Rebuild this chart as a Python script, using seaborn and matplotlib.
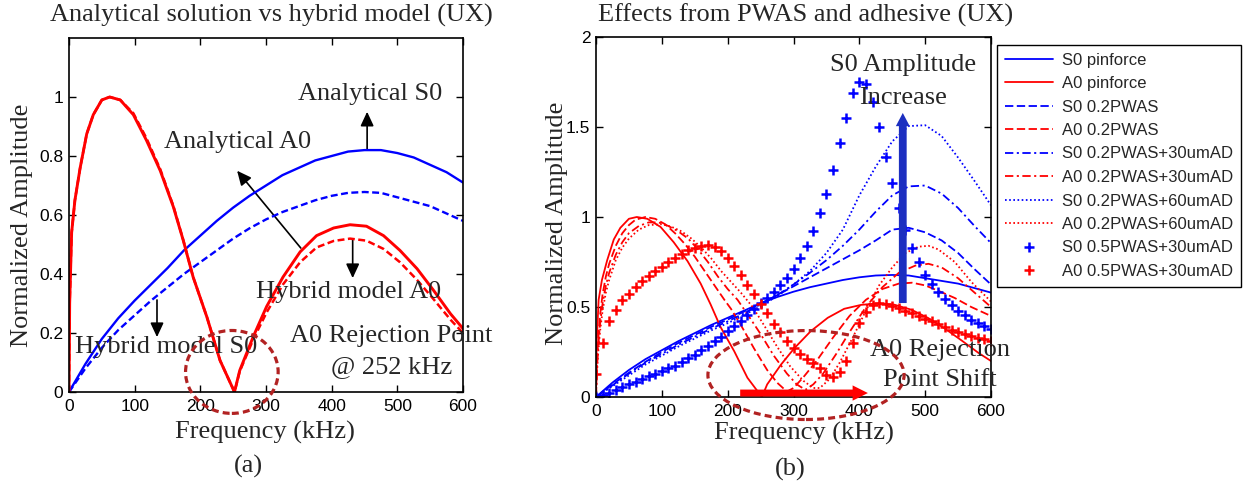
import matplotlib
matplotlib.use("Agg")
import matplotlib.pyplot as plt
import seaborn as sns
from matplotlib.patches import Ellipse, FancyArrowPatch

# ---------------- data : panel (a) ----------------
freq_a0 = [0, 1, 4, 9, 17, 27, 37, 50, 62, 78, 98, 118, 139, 159, 174, 189, 210, 230, 252,
           260, 281, 301, 326, 352, 377, 403, 428, 453, 479, 504, 530, 555, 581, 600]
a0_analytical = [0, 0.3, 0.54, 0.65, 0.76, 0.875, 0.94, 0.99, 1.0, 0.99, 0.94, 0.853, 0.75, 0.627,
                 0.514, 0.39, 0.254, 0.107, 0, 0.073, 0.19, 0.29, 0.39, 0.475, 0.53, 0.556, 0.567,
                 0.562, 0.53, 0.48, 0.418, 0.345, 0.265, 0.215]
a0_hybrid = [0, 0.3, 0.54, 0.65, 0.76, 0.875, 0.94, 0.99, 1.0, 0.99, 0.945, 0.86, 0.755, 0.63,
             0.515, 0.39, 0.254, 0.107, 0, 0.07, 0.18, 0.27, 0.365, 0.44, 0.49, 0.512, 0.52,
             0.513, 0.485, 0.44, 0.38, 0.315, 0.245, 0.2]
freq_s0 = [0, 25, 50, 75, 100, 125, 150, 175, 200, 225, 250, 275, 300, 325, 350, 375, 400, 425,
           450, 475, 500, 525, 550, 575, 600]
s0_analytical = [0, 0.095, 0.18, 0.25, 0.31, 0.365, 0.42, 0.48, 0.53, 0.58, 0.625, 0.665, 0.70,
                 0.735, 0.76, 0.785, 0.80, 0.815, 0.82, 0.82, 0.81, 0.795, 0.77, 0.745, 0.71]
s0_hybrid = [0, 0.08, 0.15, 0.21, 0.26, 0.31, 0.355, 0.40, 0.44, 0.48, 0.52, 0.555, 0.585, 0.61,
             0.63, 0.65, 0.665, 0.675, 0.678, 0.675, 0.66, 0.645, 0.63, 0.605, 0.58]

# ---------------- data : panel (b) ----------------
s0_pwas02 = [0, 0.07, 0.135, 0.195, 0.25, 0.30, 0.345, 0.39, 0.43, 0.475, 0.52, 0.565, 0.615,
             0.665, 0.715, 0.765, 0.815, 0.87, 0.93, 0.94, 0.915, 0.87, 0.80, 0.71, 0.625]
s0_pwas02_ad30 = [0, 0.065, 0.13, 0.19, 0.24, 0.29, 0.335, 0.38, 0.42, 0.465, 0.515, 0.565, 0.625,
                  0.69, 0.76, 0.84, 0.93, 1.03, 1.12, 1.17, 1.175, 1.13, 1.05, 0.95, 0.855]
s0_pwas02_ad60 = [0, 0.06, 0.12, 0.18, 0.23, 0.28, 0.325, 0.37, 0.41, 0.455, 0.505, 0.56, 0.625,
                  0.70, 0.80, 0.93, 1.12, 1.28, 1.42, 1.505, 1.51, 1.45, 1.33, 1.20, 1.065]

freq_a0_pwas02 = [0, 1, 3, 6, 10, 15, 20, 30, 40, 50, 60, 75, 90, 105, 120, 135, 150, 165, 180,
                  195, 205, 220, 240, 260, 275, 290, 300, 315, 335, 360, 385, 410, 435, 460, 480,
                  500, 520, 545, 570, 600]
a0_pwas02 = [0, 0.15, 0.3, 0.45, 0.57, 0.67, 0.74, 0.84, 0.91, 0.955, 0.985, 1.0, 0.99, 0.96,
             0.91, 0.85, 0.78, 0.70, 0.62, 0.54, 0.49, 0.40, 0.27, 0.15, 0.08, 0.03, 0.05, 0.11,
             0.2, 0.33, 0.45, 0.54, 0.6, 0.63, 0.635, 0.62, 0.59, 0.55, 0.50, 0.45]
freq_a0_ad30 = [0, 1, 3, 6, 10, 15, 20, 30, 40, 50, 65, 80, 95, 110, 125, 140, 155, 170, 185,
                200, 215, 230, 250, 270, 290, 305, 318, 330, 345, 365, 385, 410, 435, 460, 485,
                505, 525, 550, 575, 600]
a0_pwas02_ad30 = [0, 0.12, 0.26, 0.4, 0.52, 0.62, 0.69, 0.79, 0.86, 0.91, 0.95, 0.97, 0.97, 0.95,
                  0.92, 0.88, 0.82, 0.75, 0.67, 0.6, 0.54, 0.46, 0.35, 0.23, 0.13, 0.07, 0.04,
                  0.07, 0.13, 0.24, 0.36, 0.5, 0.61, 0.69, 0.73, 0.74, 0.72, 0.66, 0.58, 0.50]
freq_a0_ad60 = [0, 1, 3, 6, 10, 15, 20, 30, 40, 50, 65, 80, 100, 115, 130, 145, 160, 175, 190,
                205, 220, 238, 255, 275, 295, 315, 330, 340, 355, 370, 390, 410, 430, 450, 470,
                490, 505, 520, 545, 570, 600]
a0_pwas02_ad60 = [0, 0.1, 0.23, 0.36, 0.48, 0.58, 0.65, 0.76, 0.83, 0.88, 0.93, 0.955, 0.96, 0.945,
                  0.92, 0.88, 0.83, 0.77, 0.70, 0.64, 0.58, 0.5, 0.4, 0.28, 0.17, 0.09, 0.05, 0.05,
                  0.1, 0.19, 0.33, 0.48, 0.62, 0.72, 0.8, 0.835, 0.84, 0.82, 0.75, 0.64, 0.53]

freq_marks = [0, 10, 20, 30, 40, 50, 60, 70, 80, 90, 100, 110, 120, 130, 140, 150, 160, 170, 180,
              190, 200, 210, 220, 230, 240, 250, 260, 270, 280, 290, 300, 310, 320, 330, 340, 350,
              360, 370, 380, 390, 400, 410, 420, 430, 440, 450, 460, 470, 480, 490, 500, 510, 520,
              530, 540, 550, 560, 570, 580, 590, 600]
s0_pwas05_ad30 = [0, 0.012, 0.025, 0.04, 0.055, 0.07, 0.085, 0.10, 0.115, 0.13, 0.145, 0.16, 0.175,
                  0.195, 0.215, 0.235, 0.26, 0.285, 0.31, 0.335, 0.365, 0.395, 0.425, 0.455, 0.49,
                  0.52, 0.55, 0.585, 0.62, 0.66, 0.71, 0.77, 0.84, 0.92, 1.02, 1.13, 1.26, 1.41,
                  1.55, 1.69, 1.75, 1.74, 1.64, 1.50, 1.335, 1.19, 1.05, 0.93, 0.83, 0.75, 0.68,
                  0.63, 0.585, 0.545, 0.51, 0.48, 0.455, 0.43, 0.41, 0.395, 0.38]
a0_pwas05_ad30 = [0.13, 0.30, 0.42, 0.485, 0.54, 0.575, 0.61, 0.645, 0.675, 0.70, 0.725, 0.75,
                  0.775, 0.795, 0.815, 0.83, 0.84, 0.845, 0.835, 0.81, 0.775, 0.73, 0.68, 0.625,
                  0.57, 0.515, 0.465, 0.405, 0.36, 0.31, 0.275, 0.24, 0.21, 0.19, 0.16, 0.125,
                  0.11, 0.14, 0.20, 0.30, 0.41, 0.47, 0.51, 0.52, 0.515, 0.505, 0.495, 0.48, 0.465,
                  0.45, 0.435, 0.42, 0.405, 0.39, 0.375, 0.36, 0.35, 0.34, 0.33, 0.32, 0.31]

legend_labels = ["S0 pinforce", "A0 pinforce", "S0 0.2PWAS", "A0 0.2PWAS",
                 "S0 0.2PWAS+30umAD", "A0 0.2PWAS+30umAD", "S0 0.2PWAS+60umAD",
                 "A0 0.2PWAS+60umAD", "S0 0.5PWAS+30umAD", "A0 0.5PWAS+30umAD"]
x_ticks = [0, 100, 200, 300, 400, 500, 600]
y_ticks_a = [0, 0.2, 0.4, 0.6, 0.8, 1]
y_ticks_b = [0, 0.5, 1, 1.5, 2]

# ---------------- style ----------------
sns.set_style("white")
plt.rcParams.update({
    "font.family": ["Liberation Sans", "DejaVu Sans"],
    "lines.scale_dashes": False,
    "axes.linewidth": 1.2,
    "axes.edgecolor": "black",
    "xtick.direction": "in", "ytick.direction": "in",
    "xtick.top": True, "ytick.right": True,
    "xtick.bottom": True, "ytick.left": True,
    "xtick.major.size": 5, "ytick.major.size": 5,
    "xtick.major.width": 1.0, "ytick.major.width": 1.0,
    "xtick.color": "black", "ytick.color": "black",
    "xtick.labelsize": 12.5, "ytick.labelsize": 12.5,
    "xtick.major.pad": 5, "ytick.major.pad": 4,
})

W, H = 1244, 487
fig = plt.figure(figsize=(W / 100, H / 100), dpi=100)
axL = fig.add_axes([69 / W, 1 - 392 / H, 394 / W, 354 / H])
axR = fig.add_axes([596 / W, 1 - 397 / H, 395 / W, 360 / H])

BLUE, RED = "#0000ff", "#ff0000"
DASH = (0, (6, 2.5))
DASHDOT = (0, (6, 2.5, 1.5, 2.5))
DOT = (0, (1.2, 1.8))


def draw(ax, x, y, color, ls="-", lw=1.3, marker=None):
    kw = dict(x=x, y=y, ax=ax, color=color, estimator=None, errorbar=None, legend=False)
    if marker:
        sns.lineplot(**kw, linestyle="none", marker=marker, markersize=7,
                     markeredgewidth=1.8, markeredgecolor=color)
    else:
        sns.lineplot(**kw, linestyle=ls, lw=lw)
    return ax.lines[-1]


# ---------- panel (a) ----------
draw(axL, freq_s0, s0_analytical, BLUE, "-", 1.7)
draw(axL, freq_s0, s0_hybrid, BLUE, (0, (5, 2.5)), 1.7)
draw(axL, freq_a0, a0_analytical, RED, "-", 2.1)
draw(axL, freq_a0, a0_hybrid, RED, (0, (5, 2.5)), 1.8)

axL.set_xlim(0, 600)
axL.set_ylim(0, 1.2)
axL.set_xticks(x_ticks)
axL.set_yticks(y_ticks_a)
axL.set_yticklabels(["0", "0.2", "0.4", "0.6", "0.8", "1"])
axL.set_xlabel("")
axL.set_ylabel("")

# ---------- panel (b) ----------
handles = []
handles.append(draw(axR, freq_s0, s0_hybrid, BLUE, "-"))
handles.append(draw(axR, freq_a0, a0_hybrid, RED, "-"))
handles.append(draw(axR, freq_s0, s0_pwas02, BLUE, DASH))
handles.append(draw(axR, freq_a0_pwas02, a0_pwas02, RED, DASH))
handles.append(draw(axR, freq_s0, s0_pwas02_ad30, BLUE, DASHDOT))
handles.append(draw(axR, freq_a0_ad30, a0_pwas02_ad30, RED, DASHDOT))
handles.append(draw(axR, freq_s0, s0_pwas02_ad60, BLUE, DOT))
handles.append(draw(axR, freq_a0_ad60, a0_pwas02_ad60, RED, DOT))
handles.append(draw(axR, freq_marks, s0_pwas05_ad30, BLUE, marker="+"))
handles.append(draw(axR, freq_marks, a0_pwas05_ad30, RED, marker="+"))

axR.set_xlim(0, 600)
axR.set_ylim(0, 2)
axR.set_xticks(x_ticks)
axR.set_yticks(y_ticks_b)
axR.set_yticklabels(["0", "0.5", "1", "1.5", "2"])
axR.set_xlabel("")
axR.set_ylabel("")

for ax in (axL, axR):
    for s in ax.spines.values():
        s.set_color("black")
        s.set_linewidth(1.2)
    ax.tick_params(which="both", top=True, right=True, bottom=True, left=True,
                   direction="in", length=5, width=1.0, color="black")

# ---------- texts ----------
SERIF = ["Liberation Serif", "DejaVu Serif"]
FS = 19


def ftext(px, py, s, rot=0):
    fig.text(px / W, 1 - py / H, s, family=SERIF, fontsize=FS, ha="center", va="center",
             rotation=rot)


ftext(271, 15, "Analytical solution vs hybrid model (UX)")
ftext(806, 15, "Effects from PWAS and adhesive (UX)")
ftext(265, 432, "Frequency (kHz)")
ftext(804, 433, "Frequency (kHz)")
ftext(22, 225, "Normalized Amplitude", rot=90)
ftext(557, 223, "Normalized Amplitude", rot=90)
ftext(248, 466, "(a)")
ftext(790, 469, "(b)")


def atext(ax, x, y, s):
    ax.text(x, y, s, family=SERIF, fontsize=FS, ha="center", va="center", clip_on=False)


def black_arrow(ax, p0, p1):
    ax.add_patch(FancyArrowPatch(p0, p1, arrowstyle="-|>,head_length=0.43,head_width=0.2",
                                 mutation_scale=20, color="black", lw=1.2,
                                 shrinkA=0, shrinkB=0, clip_on=False))


atext(axL, 459, 1.01, "Analytical S0")
black_arrow(axL, (454, 0.82), (454, 0.95))
atext(axL, 256, 0.847, "Analytical A0")
black_arrow(axL, (353, 0.488), (256, 0.75))
atext(axL, 426, 0.339, "Hybrid model A0")
black_arrow(axL, (432, 0.515), (432, 0.386))
atext(axL, 148, 0.153, "Hybrid model S0")
black_arrow(axL, (134, 0.312), (134, 0.186))
atext(axL, 490, 0.19, "A0 Rejection Point")
atext(axL, 492, 0.085, "@ 252 kHz")
axL.add_patch(Ellipse((248, 0.068), 141, 0.281, fill=False, edgecolor="#b22222", lw=2.3,
                      linestyle=(0, (5, 3)), clip_on=False, zorder=5))

atext(axR, 467, 1.844, "S0 Amplitude")
atext(axR, 467, 1.661, "Increase")
axR.add_patch(FancyArrowPatch((466, 0.522), (466, 1.578),
                              arrowstyle="simple,head_length=9.5,head_width=10,tail_width=5.6",
                              mutation_scale=1, color="#1c2fc0", lw=0, shrinkA=0, shrinkB=0,
                              zorder=6))
axR.add_patch(Ellipse((319, 0.122), 298, 0.494, fill=False, edgecolor="#b22222", lw=2.3,
                      linestyle=(0, (5, 3)), clip_on=False, zorder=5))
axR.add_patch(FancyArrowPatch((219, 0.022), (413, 0.022),
                              arrowstyle="simple,head_length=11,head_width=11,tail_width=5",
                              mutation_scale=1, color=RED, lw=0, shrinkA=0, shrinkB=0,
                              zorder=6, clip_on=False))
atext(axR, 522, 0.261, "A0 Rejection")
atext(axR, 522, 0.094, "Point Shift")

# ---------- legend ----------
leg = fig.legend(handles, legend_labels, loc="upper left",
                 bbox_to_anchor=(997 / W, 1 - 45 / H), bbox_transform=fig.transFigure,
                 borderaxespad=0, frameon=True, fancybox=False, edgecolor="black",
                 framealpha=1, prop={"family": "Liberation Sans", "size": 12},
                 handlelength=2.9, handletextpad=0.55, borderpad=0.45, labelspacing=0.51,
                 numpoints=1)
leg.get_frame().set_linewidth(1.0)

fig.savefig("out.png", dpi=100)
